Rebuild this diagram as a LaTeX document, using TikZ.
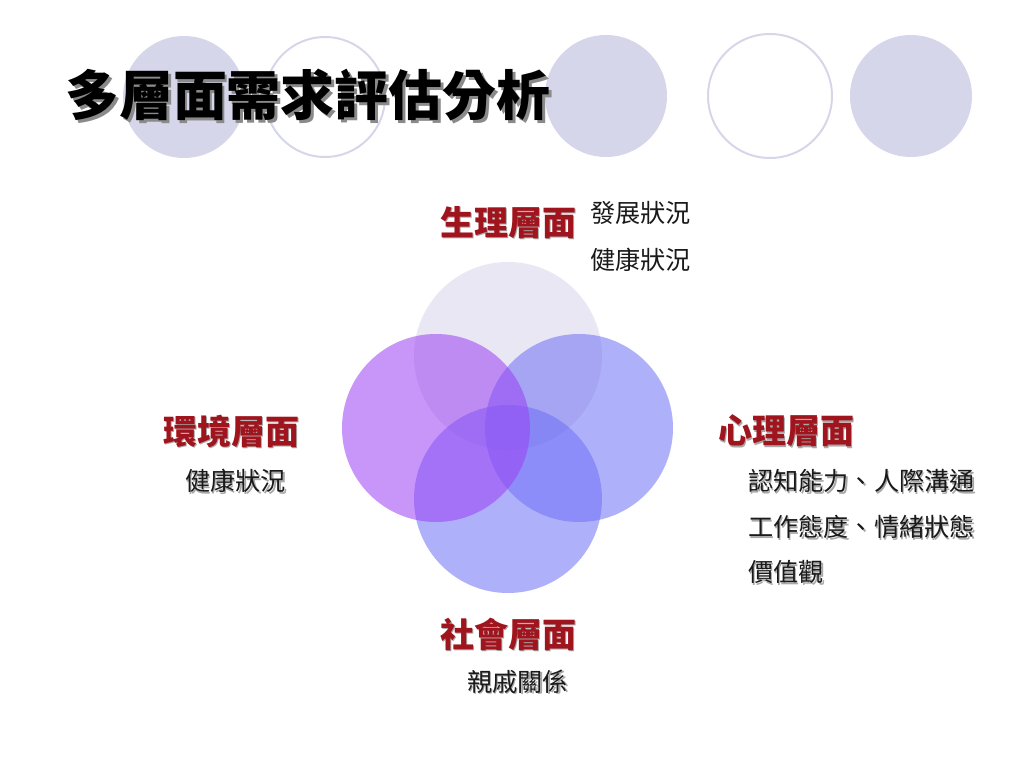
\documentclass[tikz,border=0pt]{standalone}
\usepackage{fontspec}
\usepackage{xcolor}
\usepackage{tikz}
\setmainfont{Noto Sans CJK TC}
\definecolor{ink}{HTML}{1A1A1A}
\definecolor{catred}{HTML}{A0141E}
\definecolor{shade}{HTML}{A8A8A8}
\definecolor{titleshade}{HTML}{8A8A8A}
\definecolor{decor}{HTML}{D6D6EB}
\definecolor{physFill}{HTML}{D7D3E9}
\definecolor{psyFill}{HTML}{6E70F6}
\definecolor{socFill}{HTML}{6E70F6}
\definecolor{envFill}{HTML}{9B40F4}
% text with a grey copy set behind it, offset down and right
\newcommand\shadowtext[3]{\makebox[0pt][l]{\hspace{#1}\raisebox{-#1}{\textcolor{#2}{#3}}}#3}
\tikzset{
  venn/.style={circle, inner sep=0pt, minimum size=5.64cm, fill opacity=0.55},
  dotfill/.style={fill=decor},
  dotring/.style={draw=decor, line width=1.7pt, fill=white},
  ttl/.style={inner sep=0pt, anchor=west, font=\fontsize{46}{50}\selectfont\bfseries, text=black},
  cat/.style={inner sep=0pt, anchor=west, font=\fontsize{29}{32}\selectfont\bfseries, text=catred},
  item/.style={inner sep=0pt, anchor=west, font=\fontsize{21.5}{24}\selectfont, text=ink},
}
\begin{document}
\begin{tikzpicture}[x=0.03cm, y=-0.03cm]
  \useasboundingbox (0,0) rectangle (1024,768);

  % row of dots behind the title
  \fill[dotfill] (184,97) circle (61);
  \draw[dotring] (325,97) circle (60);
  \fill[dotfill] (606,96) circle (61);
  \draw[dotring] (770,96) circle (62);
  \fill[dotfill] (911,96) circle (61);

  \node[ttl] (title) at (65,97) {\shadowtext{2.5pt}{titleshade}{多層面需求評估分析}};

  % four overlapping circles
  \node[venn, fill=physFill] (phys) at (508,356) {};
  \node[venn, fill=psyFill] (psy) at (579,428) {};
  \node[venn, fill=socFill] (soc) at (508,499) {};
  \node[venn, fill=envFill] (env) at (436,428) {};

  \node[cat] (physlab) at (440,223) {\shadowtext{1.5pt}{shade}{生理層面}};
  \node[item] (phys1) at (590,213) {發展狀況};
  \node[item] (phys2) at (590,260) {健康狀況};

  \node[cat] (psylab) at (718,432) {\shadowtext{1.5pt}{shade}{心理層面}};
  \node[item] (psy1) at (748,482) {\shadowtext{1.2pt}{shade}{認知能力、人際溝通}};
  \node[item] (psy2) at (748,528) {\shadowtext{1.2pt}{shade}{工作態度、情緒狀態}};
  \node[item] (psy3) at (748,573) {\shadowtext{1.2pt}{shade}{價值觀}};

  \node[cat] (envlab) at (163,432) {\shadowtext{1.5pt}{shade}{環境層面}};
  \node[item] (env1) at (185,482) {\shadowtext{1.2pt}{shade}{健康狀況}};

  \node[cat] (soclab) at (440,635) {\shadowtext{1.5pt}{shade}{社會層面}};
  \node[item] (soc1) at (467,682) {\shadowtext{1.2pt}{shade}{親戚關係}};
\end{tikzpicture}
\end{document}
